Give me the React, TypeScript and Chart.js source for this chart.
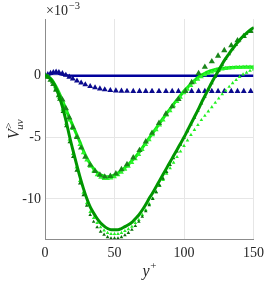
import React, { useEffect, useRef } from "react";
import { Chart, registerables } from "chart.js";

Chart.register(...registerables);

// y+ grid for the fine series
const xFine = [0, 2.5, 5, 7.5, 10, 12.5, 15, 17.5, 20, 22.5, 25, 27.5, 30, 32.5, 35, 37.5, 40, 42.5, 45, 47.5, 50, 52.5, 55, 57.5, 60, 62.5, 65, 67.5, 70, 72.5, 75, 77.5, 80, 82.5, 85, 87.5, 90, 92.5, 95, 97.5, 100, 102.5, 105, 107.5, 110, 112.5, 115, 117.5, 120, 122.5, 125, 127.5, 130, 132.5, 135, 137.5, 140, 142.5, 145, 147.5, 150];

const deepLine = [0, -0.1, -0.4, -0.9, -1.6, -2.5, -3.6, -4.85, -6.0, -7.1, -8.15, -9.1, -9.95, -10.65, -11.15, -11.6, -11.95, -12.2, -12.4, -12.5, -12.5, -12.5, -12.4, -12.25, -12.1, -11.9, -11.6, -11.3, -10.9, -10.45, -9.95, -9.5, -9.0, -8.5, -8.0, -7.5, -7.0, -6.5, -6.0, -5.5, -5.0, -4.45, -3.9, -3.35, -2.8, -2.2, -1.65, -1.1, -0.55, -0.05, 0.45, 0.95, 1.4, 1.8, 2.2, 2.55, 2.9, 3.2, 3.45, 3.7, 3.9];

const deepDarkMarks = [0, -0.15, -0.55, -1.15, -1.95, -2.95, -4.1, -5.4, -6.6, -7.7, -8.75, -9.7, -10.55, -11.3, -11.85, -12.3, -12.65, -12.9, -13.1, -13.2, -13.2, -13.2, -13.1, -12.95, -12.75, -12.5, -12.2, -11.85, -11.45, -11.0, -10.5, -10.0, -9.45, -8.9, -8.35, -7.8, -7.25, -6.7, -6.15, -5.6, -5.05, -4.5, -3.95, -3.4, -2.85, -2.25, -1.7, -1.15, -0.6, -0.1, 0.4, 0.9, 1.35, 1.75, 2.15, 2.5, 2.85, 3.15, 3.4, 3.65, 3.85];

const deepBrightMarks = [0, -0.12, -0.5, -1.05, -1.8, -2.75, -3.9, -5.2, -6.35, -7.45, -8.55, -9.5, -10.35, -11.05, -11.55, -11.95, -12.3, -12.55, -12.75, -12.85, -12.85, -12.85, -12.75, -12.6, -12.45, -12.25, -11.95, -11.7, -11.3, -10.9, -10.4, -9.95, -9.45, -8.95, -8.45, -7.95, -7.5, -7.05, -6.6, -6.15, -5.7, -5.25, -4.8, -4.4, -4.0, -3.6, -3.25, -2.9, -2.55, -2.2, -1.85, -1.5, -1.2, -0.9, -0.6, -0.35, -0.1, 0.1, 0.25, 0.4, 0.5];

const shallowLine = [0, -0.1, -0.35, -0.8, -1.35, -2.0, -2.7, -3.4, -4.05, -4.7, -5.35, -6.05, -6.65, -7.15, -7.55, -7.85, -8.05, -8.15, -8.2, -8.15, -8.05, -7.9, -7.7, -7.45, -7.2, -6.9, -6.6, -6.25, -5.85, -5.45, -5.05, -4.65, -4.25, -3.85, -3.45, -3.05, -2.7, -2.3, -1.95, -1.6, -1.25, -0.95, -0.65, -0.4, -0.15, 0.05, 0.2, 0.32, 0.42, 0.5, 0.56, 0.6, 0.63, 0.65, 0.67, 0.68, 0.69, 0.7, 0.7, 0.7, 0.7];

const shallowBrightMarks = [0, -0.12, -0.4, -0.9, -1.5, -2.2, -2.9, -3.6, -4.3, -4.95, -5.6, -6.25, -6.85, -7.35, -7.75, -8.05, -8.25, -8.35, -8.35, -8.3, -8.2, -8.05, -7.85, -7.6, -7.35, -7.05, -6.75, -6.4, -6.0, -5.6, -5.2, -4.8, -4.4, -4.0, -3.6, -3.2, -2.85, -2.45, -2.1, -1.75, -1.4, -1.1, -0.8, -0.55, -0.3, -0.1, 0.07, 0.2, 0.3, 0.4, 0.48, 0.54, 0.58, 0.61, 0.63, 0.65, 0.66, 0.67, 0.68, 0.68, 0.68];

// y+ grid for the coarse marker series
const xCoarse = [0, 2, 4, 6, 8, 10, 12.5, 15, 17.5, 20, 23, 26, 29, 32.5, 36, 39.5, 43, 47, 51, 55, 59, 63.5, 68, 72.5, 77, 82, 87, 91.5, 96, 101, 105.5, 110.5, 115, 120, 124.5, 129, 134, 138.5, 143, 148];

const shallowDarkMarks = [0, -0.1, -0.35, -0.7, -1.15, -1.6, -1.95, -2.65, -3.4, -4.2, -5.0, -5.85, -6.6, -7.25, -7.75, -8.05, -8.2, -8.15, -7.95, -7.6, -7.2, -6.65, -6.05, -5.35, -4.65, -3.85, -3.1, -2.5, -1.9, -1.25, -0.55, 0.2, 0.7, 1.15, 1.6, 2.05, 2.45, 2.85, 3.2, 3.6];

const blueMarks = [0, 0.1, 0.2, 0.27, 0.3, 0.27, 0.18, 0.05, -0.1, -0.25, -0.42, -0.58, -0.72, -0.86, -0.97, -1.06, -1.13, -1.19, -1.22, -1.24, -1.25, -1.26, -1.26, -1.26, -1.26, -1.26, -1.26, -1.26, -1.26, -1.26, -1.26, -1.26, -1.26, -1.26, -1.26, -1.26, -1.26, -1.26, -1.26, -1.26];

const blueLineX = [0, 3, 6, 9, 12, 16, 20, 30, 150];
const blueLine = [0, 0.1, 0.17, 0.17, 0.1, 0.03, 0, 0, 0];

const xTicks = [0, 50, 100, 150];
const yTicks = [-10, -5, 0];

const SERIF = "'Liberation Serif', 'Times New Roman', serif";
const TEXT = "#262626";

const pts = (xs: number[], ys: number[]) => xs.map((x, i) => ({ x, y: ys[i] }));

const labelPlugin = {
  id: "mathLabels",
  afterDraw(chart: any) {
    const ctx = chart.ctx as CanvasRenderingContext2D;
    const area = chart.chartArea;
    ctx.save();
    ctx.fillStyle = TEXT;
    ctx.textBaseline = "alphabetic";
    ctx.textAlign = "left";

    // exponent label
    ctx.font = `14px ${SERIF}`;
    ctx.fillText("\u00d710", 46, 15);
    const w10 = ctx.measureText("\u00d710").width;
    ctx.font = `10.5px ${SERIF}`;
    ctx.fillText("\u22123", 46 + w10 + 1, 9);

    // x title: y^+
    ctx.font = `italic 16px ${SERIF}`;
    const yw = ctx.measureText("y").width;
    ctx.font = `11px ${SERIF}`;
    const pw = ctx.measureText("+").width;
    const cx = (area.left + area.right) / 2;
    const sx = cx - (yw + pw) / 2;
    ctx.font = `italic 16px ${SERIF}`;
    ctx.fillText("y", sx, 276);
    ctx.font = `11px ${SERIF}`;
    ctx.fillText("+", sx + yw + 0.5, 269);

    // y title: V_uv^>
    ctx.translate(19, (area.top + area.bottom) / 2);
    ctx.rotate(-Math.PI / 2);
    ctx.font = `italic 16px ${SERIF}`;
    const vw = ctx.measureText("V").width;
    ctx.font = `italic 11px ${SERIF}`;
    const uw = ctx.measureText("uv").width;
    const total = vw + uw;
    const x0 = -total / 2;
    ctx.font = `italic 16px ${SERIF}`;
    ctx.fillText("V", x0, 0);
    ctx.font = `italic 11px ${SERIF}`;
    ctx.fillText("uv", x0 + vw - 0.5, 4);
    ctx.font = `11px ${SERIF}`;
    ctx.fillText(">", x0 + vw + 0.5, -7);
    ctx.restore();
  },
};

export default function App() {
  const ref = useRef<HTMLCanvasElement | null>(null);

  useEffect(() => {
    if (!ref.current) return;
    const lineDs = (label: string, xs: number[], ys: number[], color: string, width: number, order: number) => ({
      label,
      data: pts(xs, ys),
      borderColor: color,
      backgroundColor: color,
      borderWidth: width,
      pointRadius: 0,
      showLine: true,
      cubicInterpolationMode: "monotone" as const,
      order,
    });
    const markDs = (label: string, xs: number[], ys: number[], color: string, r: number, order: number) => ({
      label,
      data: pts(xs, ys),
      borderColor: color,
      backgroundColor: color,
      borderWidth: 0,
      pointStyle: "triangle" as const,
      pointRadius: r,
      showLine: false,
      order,
    });

    const chart = new Chart(ref.current, {
      type: "line",
      data: {
        datasets: [
          lineDs("deepLine", xFine, deepLine, "#009600", 3, 1),
          markDs("deepDark", xFine, deepDarkMarks, "#0a700a", 2.1, 2),
          markDs("deepBright", xFine, deepBrightMarks, "#22f022", 2.1, 3),
          markDs("shallowDark", xCoarse, shallowDarkMarks, "#1a861a", 3.6, 4),
          markDs("shallowBright", xFine, shallowBrightMarks, "#2cf52c", 2.8, 5),
          lineDs("shallowLine", xFine, shallowLine, "#10e610", 3, 6),
          markDs("blueMarks", xCoarse, blueMarks, "#0a0a8e", 3.4, 7),
          lineDs("blueLine", blueLineX, blueLine, "#00009c", 2.4, 8),
        ],
      },
      options: {
        responsive: false,
        animation: false,
        devicePixelRatio: 1,
        events: [],
        layout: { padding: { top: 19, right: 12, left: 0, bottom: 0 } },
        plugins: { legend: { display: false }, tooltip: { enabled: false } },
        scales: {
          x: {
            type: "linear",
            min: 0,
            max: 150,
            afterBuildTicks: (s: any) => {
              s.ticks = xTicks.map((v) => ({ value: v }));
            },
            afterFit: (s: any) => {
              s.height = 43;
            },
            grid: { color: "#e6e6e6", drawTicks: false },
            border: { color: "#8c8c8c", width: 1 },
            ticks: {
              font: { family: SERIF, size: 14 },
              color: TEXT,
              padding: 6,
              maxRotation: 0,
              callback: (v: any) => String(v),
            },
          },
          y: {
            type: "linear",
            min: -13.25,
            max: 4.6,
            afterBuildTicks: (s: any) => {
              s.ticks = yTicks.map((v) => ({ value: v }));
            },
            afterFit: (s: any) => {
              s.width = 45;
            },
            grid: { color: "#e6e6e6", drawTicks: false },
            border: { color: "#8c8c8c", width: 1 },
            ticks: {
              font: { family: SERIF, size: 14 },
              color: TEXT,
              padding: 4,
              callback: (v: any) => String(v),
            },
          },
        },
      },
      plugins: [labelPlugin],
    });
    return () => chart.destroy();
  }, []);

  return (
    <div style={{ position: "absolute", left: 0, top: 0, width: 270, height: 282, background: "#fff" }}>
      <canvas ref={ref} width={270} height={282} style={{ width: 270, height: 282, display: "block" }} />
    </div>
  );
}
